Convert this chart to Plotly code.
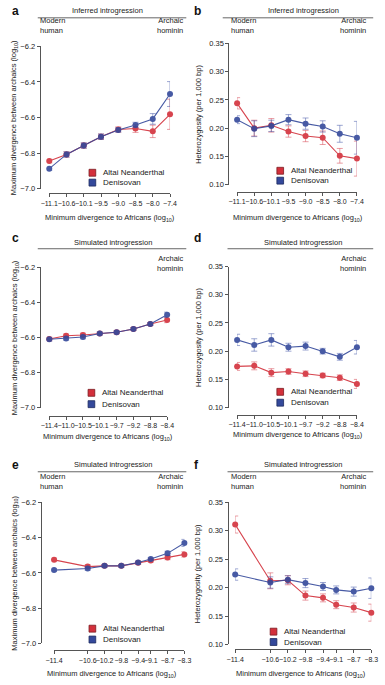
import plotly.graph_objects as go

W, H = 385, 685

# ---------------- data ----------------
a_labels = ["−11.1", "−10.6", "−10.1", "−9.5", "−9.0", "−8.5", "−8.0", "−7.4"]
a_altai = [-6.845, -6.808, -6.758, -6.708, -6.668, -6.662, -6.678, -6.582]
a_altai_err = [0.010, 0.015, 0.015, 0.015, 0.015, 0.022, 0.035, 0.085]
a_deni = [-6.888, -6.808, -6.758, -6.708, -6.670, -6.642, -6.608, -6.468]
a_deni_err = [0.010, 0.015, 0.015, 0.015, 0.012, 0.015, 0.030, 0.070]

b_labels = ["−11.1", "−10.6", "−10.1", "−9.5", "−9.0", "−8.5", "−8.0", "−7.4"]
b_altai = [0.244, 0.200, 0.205, 0.194, 0.186, 0.183, 0.151, 0.146]
b_altai_err = [0.010, 0.014, 0.012, 0.010, 0.010, 0.012, 0.013, 0.031]
b_deni = [0.215, 0.199, 0.204, 0.215, 0.208, 0.203, 0.190, 0.183]
b_deni_err = [0.007, 0.014, 0.010, 0.009, 0.010, 0.010, 0.015, 0.029]

c_labels = ["−11.4", "−11.0", "−10.5", "−10.1", "−9.7", "−9.2", "−8.8", "−8.4"]
c_altai = [-6.608, -6.590, -6.585, -6.577, -6.570, -6.551, -6.523, -6.500]
c_altai_err = [0.010, 0.010, 0.010, 0.008, 0.008, 0.008, 0.008, 0.015]
c_deni = [-6.610, -6.605, -6.597, -6.577, -6.570, -6.551, -6.523, -6.470]
c_deni_err = [0.010, 0.010, 0.010, 0.008, 0.008, 0.008, 0.008, 0.015]

d_labels = ["−11.4", "−11.0", "−10.5", "−10.1", "−9.7", "−9.2", "−8.8", "−8.4"]
d_altai = [0.173, 0.174, 0.162, 0.164, 0.160, 0.157, 0.153, 0.142]
d_altai_err = [0.007, 0.007, 0.007, 0.005, 0.005, 0.004, 0.005, 0.008]
d_deni = [0.220, 0.211, 0.220, 0.207, 0.209, 0.200, 0.190, 0.207]
d_deni_err = [0.010, 0.011, 0.011, 0.007, 0.007, 0.005, 0.006, 0.012]

e_x = [-11.4, -10.6, -10.2, -9.8, -9.4, -9.1, -8.7, -8.3]
e_labels = ["−11.4", "−10.6", "−10.2", "−9.8", "−9.4", "−9.1", "−8.7", "−8.3"]
e_altai = [-6.526, -6.564, -6.560, -6.560, -6.543, -6.530, -6.513, -6.495]
e_altai_err = [0.010, 0.010, 0.008, 0.008, 0.008, 0.008, 0.012, 0.015]
e_deni = [-6.584, -6.575, -6.560, -6.560, -6.541, -6.521, -6.489, -6.430]
e_deni_err = [0.008, 0.010, 0.008, 0.008, 0.008, 0.008, 0.012, 0.020]

f_x = [-11.4, -10.6, -10.2, -9.8, -9.4, -9.1, -8.7, -8.3]
f_labels = ["−11.4", "−10.6", "−10.2", "−9.8", "−9.4", "−9.1", "−8.7", "−8.3"]
f_altai = [0.311, 0.212, 0.213, 0.186, 0.182, 0.170, 0.165, 0.156]
f_altai_err = [0.015, 0.014, 0.008, 0.008, 0.007, 0.007, 0.008, 0.015]
f_deni = [0.223, 0.209, 0.214, 0.208, 0.202, 0.196, 0.193, 0.199]
f_deni_err = [0.010, 0.010, 0.007, 0.008, 0.007, 0.007, 0.008, 0.018]

div_ticks = [-7.0, -6.8, -6.6, -6.4, -6.2]
div_tick_labels = ["−7.0", "−6.8", "−6.6", "−6.4", "−6.2"]
het_ticks = [0.10, 0.15, 0.20, 0.25, 0.30, 0.35]
het_tick_labels = ["0.10", "0.15", "0.20", "0.25", "0.30", "0.35"]

series_names = ["Altai Neanderthal", "Denisovan"]

# ---------------- style ----------------
RED = "#d3303b"
RED_ERR = "rgba(214,60,72,0.55)"
BLUE = "#34499b"
BLUE_ERR = "rgba(60,80,165,0.55)"
TXT = "#222222"
AXC = "#555555"
FONT = "Liberation Sans, Arial, sans-serif"


def px(x):
    return x / W


def py(y):
    return 1 - y / H


panels = [
    dict(letter="a", title="Inferred introgression", x=list(range(8)), ticks=list(range(8)), tlabels=a_labels,
         xr=[0, 7], xdom=(42, 168), xpos=192, ydom=(43, 187), yr=[-7.0, -6.2], yticks=div_ticks,
         ylabels=div_tick_labels, ypos=32, altai=(a_altai, a_altai_err), deni=(a_deni, a_deni_err),
         ytitle="Maximum divergence between archaics (log<sub>10</sub>)", ytx=6,
         xtitle_xy=(105, 217), letter_xy=(1, 7), title_xy=(103, 7), line=(30, 185, 14),
         modern=(30, 22), archaic=(185, 22), leg=(87, 171, 10)),
    dict(letter="b", title="Inferred introgression", x=list(range(8)), ticks=list(range(8)), tlabels=b_labels,
         xr=[0, 7], xdom=(238, 363), xpos=190, ydom=(40, 183), yr=[0.10, 0.35], yticks=het_ticks,
         ylabels=het_tick_labels, ypos=229, altai=(b_altai, b_altai_err), deni=(b_deni, b_deni_err),
         ytitle="Heterozygosity (per 1,000 bp)", ytx=197,
         xtitle_xy=(302, 217), letter_xy=(191, 7), title_xy=(307, 7), line=(223, 380, 14),
         modern=(230, 22), archaic=(376, 22), leg=(283, 169, 10)),
    dict(letter="c", title="Simulated introgression", x=list(range(8)), ticks=list(range(8)), tlabels=c_labels,
         xr=[0, 7], xdom=(42, 165), xpos=417, ydom=(267, 409), yr=[-7.0, -6.2], yticks=div_ticks,
         ylabels=div_tick_labels, ypos=32, altai=(c_altai, c_altai_err), deni=(c_deni, c_deni_err),
         ytitle="Maximum divergence between archaics (log<sub>10</sub>)", ytx=6,
         xtitle_xy=(103, 439), letter_xy=(1, 237), title_xy=(108, 242), line=(30, 185, 248),
         modern=None, archaic=(185, 263), leg=(86, 394, 11.5)),
    dict(letter="d", title="Simulated introgression", x=list(range(8)), ticks=list(range(8)), tlabels=d_labels,
         xr=[0, 7], xdom=(238, 363), xpos=416, ydom=(266, 409), yr=[0.10, 0.35], yticks=het_ticks,
         ylabels=het_tick_labels, ypos=228, altai=(d_altai, d_altai_err), deni=(d_deni, d_deni_err),
         ytitle="Heterozygosity (per 1,000 bp)", ytx=197,
         xtitle_xy=(302, 437), letter_xy=(191, 237), title_xy=(307, 242), line=(228, 380, 248),
         modern=None, archaic=(376, 263), leg=(283, 393, 11)),
    dict(letter="e", title="Simulated introgression", x=e_x, ticks=e_x, tlabels=e_labels,
         xr=[-11.4, -8.3], xdom=(47, 183), xpos=655, ydom=(505, 648), yr=[-7.0, -6.2], yticks=div_ticks,
         ylabels=div_tick_labels, ypos=33, altai=(e_altai, e_altai_err), deni=(e_deni, e_deni_err),
         ytitle="Maximum divergence between archaics (log<sub>10</sub>)", ytx=6,
         xtitle_xy=(107, 679), letter_xy=(1, 467), title_xy=(108, 467), line=(30, 185, 474),
         modern=(30, 484), archaic=(185, 484), leg=(87, 633, 11)),
    dict(letter="f", title="Simulated introgression", x=f_x, ticks=f_x, tlabels=f_labels,
         xr=[-11.4, -8.3], xdom=(236, 378), xpos=654, ydom=(505, 649), yr=[0.10, 0.35], yticks=het_ticks,
         ylabels=het_tick_labels, ypos=228, altai=(f_altai, f_altai_err), deni=(f_deni, f_deni_err),
         ytitle="Heterozygosity (per 1,000 bp)", ytx=197,
         xtitle_xy=(305, 679), letter_xy=(191, 467), title_xy=(307, 467), line=(228, 380, 474),
         modern=(230, 484), archaic=(376, 484), leg=(276, 636, 10.5)),
]

fig = go.Figure()
annotations = []
shapes = []
layout_axes = {}

for k, p in enumerate(panels):
    n = "" if k == 0 else str(k + 1)
    xref, yref = "x" + n, "y" + n
    for (vals, errs), col, ecol in ((p["altai"], RED, RED_ERR), (p["deni"], BLUE, BLUE_ERR)):
        fig.add_trace(go.Scatter(
            x=p["x"], y=vals, mode="lines+markers", xaxis=xref, yaxis=yref,
            line=dict(color=col, width=1.1), marker=dict(color=col, size=6),
            error_y=dict(type="data", array=errs, visible=True, color=ecol, thickness=1, width=3),
            opacity=0.9, cliponaxis=False, showlegend=False, hoverinfo="skip"))

    layout_axes["xaxis" + n] = dict(
        domain=[px(p["xdom"][0]), px(p["xdom"][1])], range=p["xr"], anchor="free",
        position=py(p["xpos"]), tickmode="array", tickvals=p["ticks"], ticktext=p["tlabels"],
        showline=True, linecolor=AXC, linewidth=1, ticks="outside", ticklen=3, tickcolor=AXC,
        tickwidth=1, showgrid=False, zeroline=False, tickfont=dict(size=7, color=TXT, family=FONT),
        tickangle=0, fixedrange=True)
    layout_axes["yaxis" + n] = dict(
        domain=[py(p["ydom"][1]), py(p["ydom"][0])], range=p["yr"], anchor="free",
        position=px(p["ypos"]), tickmode="array", tickvals=p["yticks"], ticktext=p["ylabels"],
        showline=True, linecolor=AXC, linewidth=1, ticks="outside", ticklen=3, tickcolor=AXC,
        tickwidth=1, showgrid=False, zeroline=False, tickfont=dict(size=7.5, color=TXT, family=FONT),
        fixedrange=True)

    annotations.append(dict(text="<b>%s</b>" % p["letter"], x=px(p["letter_xy"][0]), y=py(p["letter_xy"][1]),
                            xref="paper", yref="paper", xanchor="left", yanchor="middle", showarrow=False,
                            font=dict(size=12, color="#111", family=FONT)))
    annotations.append(dict(text=p["title"], x=px(p["title_xy"][0]), y=py(p["title_xy"][1]),
                            xref="paper", yref="paper", xanchor="center", yanchor="middle", showarrow=False,
                            font=dict(size=7.5, color=TXT, family=FONT)))
    x0, x1, yl = p["line"]
    shapes.append(dict(type="line", xref="paper", yref="paper", x0=px(x0), x1=px(x1), y0=py(yl), y1=py(yl),
                       line=dict(color="#666", width=1)))
    if p["modern"]:
        annotations.append(dict(text="Modern<br>human", x=px(p["modern"][0]), y=py(p["modern"][1]),
                                xref="paper", yref="paper", xanchor="left", yanchor="middle", align="left",
                                showarrow=False, font=dict(size=7.5, color=TXT, family=FONT)))
    if p["archaic"]:
        annotations.append(dict(text="Archaic<br>hominin", x=px(p["archaic"][0]), y=py(p["archaic"][1]),
                                xref="paper", yref="paper", xanchor="right", yanchor="middle", align="right",
                                showarrow=False, font=dict(size=7.5, color=TXT, family=FONT)))
    annotations.append(dict(text="Minimum divergence to Africans (log<sub>10</sub>)",
                            x=px(p["xtitle_xy"][0]), y=py(p["xtitle_xy"][1]), xref="paper", yref="paper",
                            xanchor="center", yanchor="middle", showarrow=False,
                            font=dict(size=7.5, color=TXT, family=FONT)))
    annotations.append(dict(text=p["ytitle"], x=px(p["ytx"]), y=py((p["ydom"][0] + p["ydom"][1]) / 2),
                            xref="paper", yref="paper", xanchor="center", yanchor="middle", textangle=-90,
                            showarrow=False, font=dict(size=7.5, color=TXT, family=FONT)))
    lx, ly, gap = p["leg"]
    for j, (name, col, bcol) in enumerate(zip(series_names, (RED, BLUE), ("#7a1a20", "#1c2a5e"))):
        yy = ly + j * gap
        shapes.append(dict(type="rect", xref="paper", yref="paper", x0=px(lx - 3.5), x1=px(lx + 3.5),
                           y0=py(yy + 3.5), y1=py(yy - 3.5), fillcolor=col, line=dict(color=bcol, width=0.8)))
        annotations.append(dict(text=name, x=px(lx + 9), y=py(yy), xref="paper", yref="paper",
                                xanchor="left", yanchor="middle", showarrow=False,
                                font=dict(size=8, color=TXT, family=FONT)))

fig.update_layout(
    width=W, height=H, autosize=False, margin=dict(l=0, r=0, t=0, b=0),
    paper_bgcolor="white", plot_bgcolor="white", showlegend=False,
    font=dict(family=FONT, color=TXT), annotations=annotations, shapes=shapes, **layout_axes)

fig.write_html("out.html", config={"displayModeBar": False},
               post_script="document.body.style.margin='0';document.body.style.overflow='hidden';")
